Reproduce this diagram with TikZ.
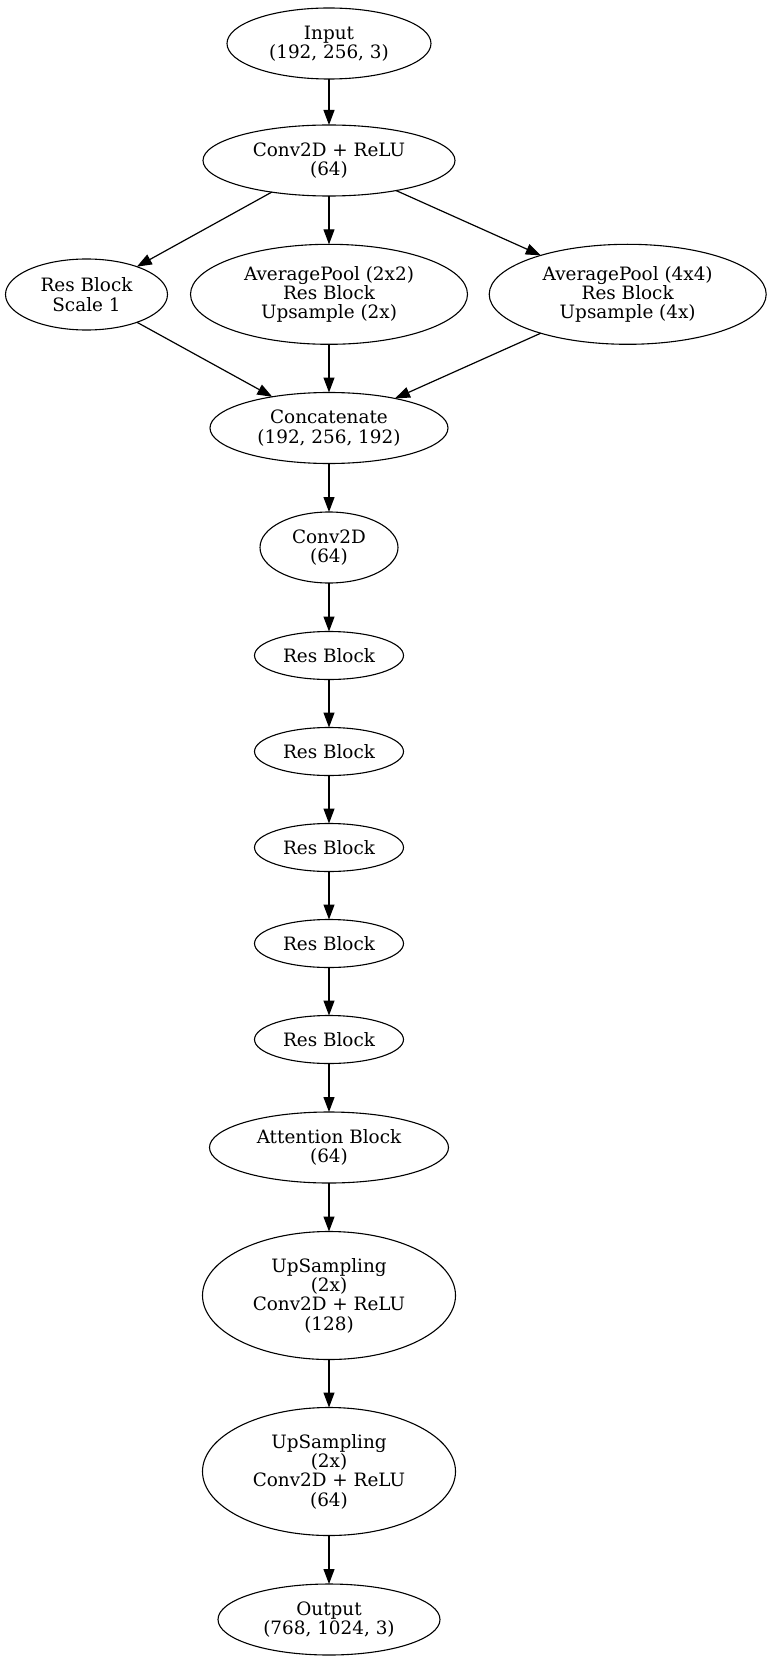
\documentclass[tikz,border=0pt]{standalone}
\usepackage{fontspec}
\setmainfont{DejaVu Serif}
\usetikzlibrary{shapes.geometric,arrows.meta}
\begin{document}
\begin{tikzpicture}[x=1pt,y=1pt,
  nd/.style={ellipse,draw,line width=1.1pt,inner sep=0pt,outer sep=0pt,align=center,
    font=\fontsize{18.4}{19.3}\selectfont},
  e2/.style={nd,minimum height=71pt},
  e3/.style={nd,minimum height=100pt},
  e4/.style={nd,minimum height=128pt},
  e1/.style={nd,minimum height=48pt},
  conn/.style={line width=1.2pt,-{Triangle[length=15pt,width=11pt]}}]
\useasboundingbox (0,0) rectangle (771,-1661);
\node[e2,minimum width=204pt] (inp) at (329,-43.5) {Input\\(192, 256, 3)};
\node[e2,minimum width=252pt] (conv) at (329,-160.5) {Conv2D + ReLU\\(64)};
\node[e2,minimum width=162pt] (rb1) at (86.5,-294.5) {Res Block\\Scale 1};
\node[e3,minimum width=277pt] (ap2) at (329,-294.3) {AveragePool (2x2)\\Res Block\\Upsample (2x)};
\node[e3,minimum width=277pt] (ap4) at (627.7,-294.3) {AveragePool (4x4)\\Res Block\\Upsample (4x)};
\node[e2,minimum width=238pt] (cat) at (329,-428) {Concatenate\\(192, 256, 192)};
\node[e2,minimum width=138pt] (c64) at (329,-547.5) {Conv2D\\(64)};
\node[e1,minimum width=149pt] (r1) at (329,-655.5) {Res Block};
\node[e1,minimum width=149pt] (r2) at (329,-751.5) {Res Block};
\node[e1,minimum width=149pt] (r3) at (329,-847.5) {Res Block};
\node[e1,minimum width=149pt] (r4) at (329,-943.5) {Res Block};
\node[e1,minimum width=149pt] (r5) at (329,-1039.5) {Res Block};
\node[e2,minimum width=239pt] (att) at (329,-1147.5) {Attention Block\\(64)};
\node[e4,minimum width=253pt] (up1) at (329,-1295.5) {UpSampling\\(2x)\\Conv2D + ReLU\\(128)};
\node[e4,minimum width=253pt] (up2) at (329,-1471.5) {UpSampling\\(2x)\\Conv2D + ReLU\\(64)};
\node[e2,minimum width=222pt] (out) at (329,-1619.5) {Output\\(768, 1024, 3)};
\draw[conn] (inp) -- (conv);
\draw[conn] (conv) -- (rb1);
\draw[conn] (conv) -- (ap2);
\draw[conn] (conv) -- (ap4);
\draw[conn] (rb1) -- (cat);
\draw[conn] (ap2) -- (cat);
\draw[conn] (ap4) -- (cat);
\draw[conn] (cat) -- (c64);
\draw[conn] (c64) -- (r1);
\draw[conn] (r1) -- (r2);
\draw[conn] (r2) -- (r3);
\draw[conn] (r3) -- (r4);
\draw[conn] (r4) -- (r5);
\draw[conn] (r5) -- (att);
\draw[conn] (att) -- (up1);
\draw[conn] (up1) -- (up2);
\draw[conn] (up2) -- (out);
\end{tikzpicture}
\end{document}
